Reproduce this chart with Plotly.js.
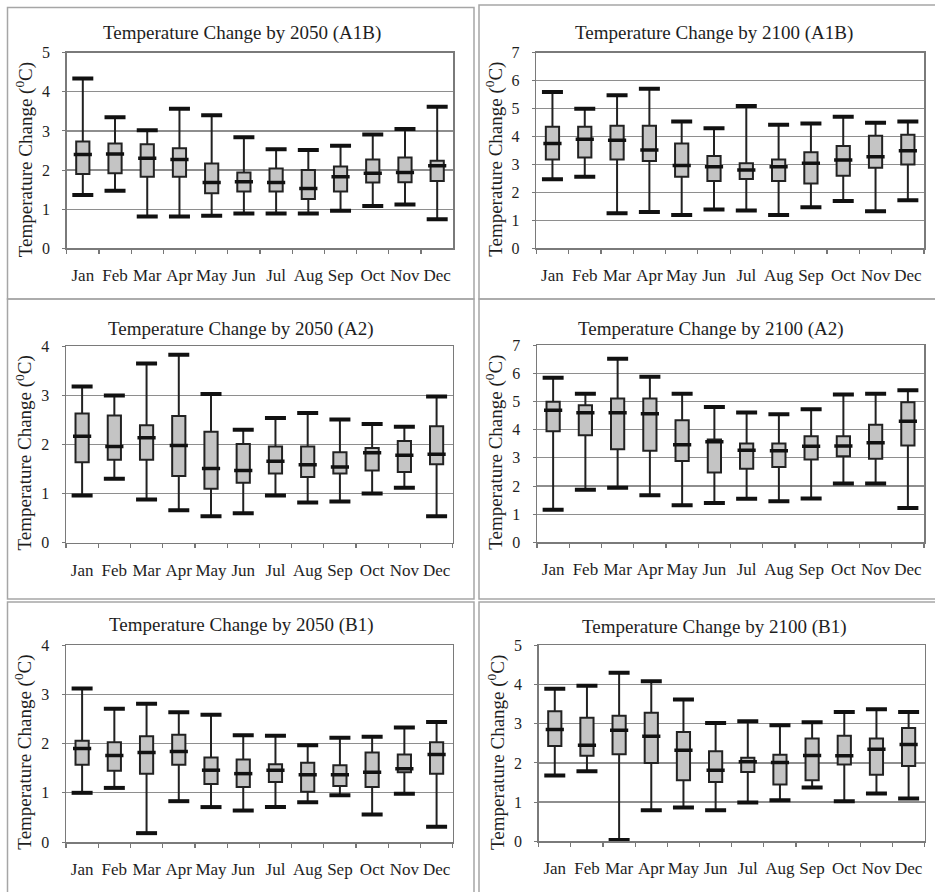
<!DOCTYPE html>
<html>
<head>
<meta charset="utf-8">
<script src="https://cdn.plot.ly/plotly-3.0.1.min.js"></script>
<style>html,body{margin:0;padding:0;background:#fff;}#chart{width:935px;height:892px;}</style>
</head>
<body>
<div id="chart"></div>
<script>
const months = ["Jan","Feb","Mar","Apr","May","Jun","Jul","Aug","Sep","Oct","Nov","Dec"];
const yTitle = "Temperature Change (<sup>0</sup>C)";

// 2050 (A1B)
const a1b2050Min = [1.36,1.47,0.81,0.81,0.83,0.89,0.89,0.89,0.96,1.08,1.12,0.74];
const a1b2050Q1  = [1.90,1.92,1.83,1.83,1.41,1.45,1.45,1.26,1.45,1.68,1.69,1.72];
const a1b2050Med = [2.40,2.41,2.30,2.27,1.68,1.70,1.68,1.53,1.83,1.92,1.94,2.11];
const a1b2050Q3  = [2.73,2.68,2.66,2.56,2.17,1.94,2.04,2.00,2.09,2.27,2.32,2.24];
const a1b2050Max = [4.34,3.35,3.02,3.57,3.40,2.84,2.53,2.51,2.62,2.91,3.05,3.62];

// 2100 (A1B)
const a1b2100Min = [2.47,2.56,1.25,1.30,1.19,1.39,1.35,1.19,1.47,1.69,1.33,1.72];
const a1b2100Q1  = [3.18,3.25,3.18,3.12,2.56,2.41,2.48,2.41,2.32,2.60,2.88,3.00];
const a1b2100Med = [3.75,3.90,3.87,3.52,2.96,2.92,2.80,2.92,3.04,3.16,3.28,3.49];
const a1b2100Q3  = [4.35,4.35,4.39,4.39,3.75,3.30,3.04,3.18,3.44,3.66,4.03,4.06];
const a1b2100Max = [5.59,4.99,5.48,5.71,4.54,4.30,5.09,4.42,4.47,4.71,4.49,4.54];

// 2050 (A2)
const a22050Min = [0.96,1.30,0.88,0.66,0.54,0.60,0.96,0.82,0.84,1.00,1.12,0.54];
const a22050Q1  = [1.64,1.69,1.69,1.36,1.10,1.22,1.41,1.34,1.41,1.47,1.44,1.60];
const a22050Med = [2.17,1.96,2.14,1.98,1.51,1.47,1.66,1.59,1.54,1.83,1.78,1.80];
const a22050Q3  = [2.63,2.59,2.39,2.58,2.26,2.01,1.96,1.96,1.84,1.93,2.07,2.37];
const a22050Max = [3.18,3.00,3.65,3.83,3.03,2.30,2.54,2.64,2.51,2.42,2.36,2.98];

// 2100 (A2)
const a22100Min = [1.16,1.87,1.94,1.67,1.32,1.40,1.55,1.46,1.56,2.09,2.09,1.22];
const a22100Q1  = [3.95,3.80,3.31,3.25,2.89,2.48,2.61,2.68,2.94,3.06,2.97,3.44];
const a22100Med = [4.69,4.60,4.60,4.57,3.47,3.57,3.27,3.25,3.41,3.42,3.54,4.30];
const a22100Q3  = [4.99,4.87,5.11,5.11,4.34,3.65,3.51,3.51,3.77,3.77,4.18,4.98];
const a22100Max = [5.85,5.28,6.52,5.88,5.28,4.81,4.61,4.55,4.73,5.25,5.28,5.40];

// 2050 (B1)
const b12050Min = [1.00,1.10,0.18,0.83,0.71,0.64,0.71,0.81,0.95,0.56,0.98,0.31];
const b12050Q1  = [1.57,1.45,1.39,1.57,1.18,1.12,1.22,1.02,1.14,1.12,1.42,1.39];
const b12050Med = [1.90,1.76,1.82,1.84,1.46,1.39,1.46,1.37,1.37,1.42,1.49,1.78];
const b12050Q3  = [2.06,2.03,2.15,2.18,1.72,1.68,1.58,1.61,1.56,1.82,1.78,2.03];
const b12050Max = [3.12,2.71,2.81,2.64,2.59,2.17,2.16,1.97,2.12,2.14,2.33,2.44];

// 2100 (B1)
const b12100Min = [1.68,1.79,0.03,0.79,0.86,0.79,0.99,1.05,1.37,1.02,1.22,1.09];
const b12100Q1  = [2.43,2.18,2.22,2.00,1.56,1.51,1.77,1.45,1.56,1.96,1.70,1.92];
const b12100Med = [2.85,2.45,2.83,2.68,2.32,1.81,2.03,2.01,2.19,2.18,2.35,2.47];
const b12100Q3  = [3.32,3.15,3.20,3.28,2.79,2.30,2.13,2.21,2.62,2.69,2.62,2.89];
const b12100Max = [3.89,3.97,4.30,4.08,3.62,3.02,3.06,2.96,3.04,3.30,3.37,3.30];

const panelTitles = [
  "Temperature Change by 2050 (A1B)",
  "Temperature Change by 2100 (A1B)",
  "Temperature Change by 2050 (A2)",
  "Temperature Change by 2100 (A2)",
  "Temperature Change by 2050 (B1)",
  "Temperature Change by 2100 (B1)"
];
const yMaxes = [5, 7, 4, 7, 4, 5];

const series = [
  [a1b2050Min, a1b2050Q1, a1b2050Med, a1b2050Q3, a1b2050Max],
  [a1b2100Min, a1b2100Q1, a1b2100Med, a1b2100Q3, a1b2100Max],
  [a22050Min, a22050Q1, a22050Med, a22050Q3, a22050Max],
  [a22100Min, a22100Q1, a22100Med, a22100Q3, a22100Max],
  [b12050Min, b12050Q1, b12050Med, b12050Q3, b12050Max],
  [b12100Min, b12100Q1, b12100Med, b12100Q3, b12100Max]
];

// ---- layout (pixel geometry) ----
const W = 935, H = 892;
const px = v => v / W;
const py = v => 1 - v / H;
const geom = [
  {x0:66.7, x1:453.3, y0:52.7, y1:248.3, tx:242, ty:33},
  {x0:536.3, x1:924, y0:52.7, y1:248.3, tx:714, ty:33},
  {x0:66, x1:452.7, y0:346.3, y1:542.7, tx:241, ty:329},
  {x0:537, x1:924, y0:345.3, y1:542.3, tx:711, ty:329},
  {x0:66, x1:452.7, y0:645.3, y1:842, tx:241, ty:625},
  {x0:538.7, x1:924.7, y0:645.3, y1:841.3, tx:714, ty:627}
];

const FONT = "Liberation Serif";
const TXT = "#1e1e1e";
const data = [];
const layout = {
  width: W, height: H,
  margin: {l:0, r:0, t:0, b:0},
  paper_bgcolor: "#fff", plot_bgcolor: "#fff",
  showlegend: false,
  font: {family: FONT, color: TXT},
  annotations: [], shapes: []
};

geom.forEach((g, i) => {
  const n = i === 0 ? "" : String(i + 1);
  const xa = "x" + n, ya = "y" + n;
  const [mn, q1, med, q3, mx] = series[i];
  data.push({
    type: "box", x: months, q1: q1, median: med, q3: q3,
    lowerfence: mn, upperfence: mx,
    xaxis: xa, yaxis: ya,
    width: 0.41, whiskerwidth: 1, boxpoints: false,
    fillcolor: "#c4c4c4",
    line: {color: "#222", width: 2},
    hoverinfo: "skip"
  });
  data.push({
    type: "scatter", mode: "markers", x: months, y: med,
    xaxis: xa, yaxis: ya, hoverinfo: "skip",
    marker: {symbol: "line-ew", size: 13, color: "#111", line: {color: "#111", width: 3.5}}
  });
  data.push({
    type: "scatter", mode: "markers", x: months.concat(months), y: mn.concat(mx),
    xaxis: xa, yaxis: ya, hoverinfo: "skip",
    marker: {symbol: "line-ew", size: 15, color: "#111", line: {color: "#111", width: 4}}
  });

  layout["xaxis" + n] = {
    domain: [px(g.x0), px(g.x1)], anchor: ya,
    type: "category", range: [-0.5, 11.5],
    tickson: "boundaries", ticks: "outside", ticklen: 4, tickcolor: "#777", tickwidth: 1.2,
    showline: true, linecolor: "#7a7a7a", linewidth: 1.5, mirror: true,
    showgrid: false, fixedrange: true, tickangle: 0,
    tickfont: {family: FONT, size: 17, color: TXT},
    ticklabelstandoff: 11
  };
  layout["yaxis" + n] = {
    domain: [py(g.y1), py(g.y0)], anchor: xa,
    range: [0, yMaxes[i]], dtick: 1, tick0: 0,
    ticks: "outside", ticklen: 3, tickcolor: "#777",
    showline: true, linecolor: "#7a7a7a", linewidth: 1.5, mirror: true,
    showgrid: true, gridcolor: "#8e8e8e", gridwidth: 1.2,
    zeroline: false, fixedrange: true,
    tickfont: {family: FONT, size: 16, color: TXT},
    ticklabelstandoff: 9
  };
  layout.annotations.push({
    xref: "paper", yref: "paper", x: px(g.tx), y: py(g.ty),
    xanchor: "center", yanchor: "middle", showarrow: false,
    text: panelTitles[i], font: {family: FONT, size: 19, color: TXT}
  });
  layout.annotations.push({
    xref: "paper", yref: "paper", x: px(g.x0 - 42), y: py((g.y0 + g.y1) / 2 + 9),
    xanchor: "center", yanchor: "middle", showarrow: false, textangle: -90,
    text: yTitle, font: {family: FONT, size: 19, color: TXT}
  });
});

// panel frames
const frames = [
  [7.5, 7.5, 474, 299], [479, 5, 945, 299],
  [7.5, 299, 474, 599], [479, 299, 945, 599],
  [7.5, 602, 474, 900], [479, 602, 945, 900]
];
frames.forEach(f => {
  layout.shapes.push({
    type: "rect", xref: "paper", yref: "paper", layer: "below",
    x0: px(f[0]), x1: px(f[2]), y0: py(f[3]), y1: py(f[1]),
    line: {color: "#a6a6a6", width: 1.5}, fillcolor: "rgba(0,0,0,0)"
  });
});

Plotly.newPlot("chart", data, layout, {staticPlot: true, displayModeBar: false});
</script>
</body>
</html>
